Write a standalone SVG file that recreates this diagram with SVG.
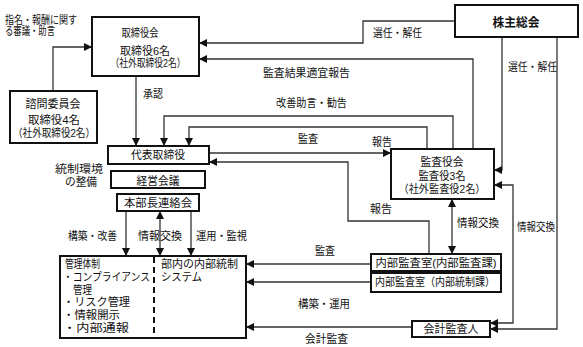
<svg xmlns="http://www.w3.org/2000/svg" width="583" height="347" viewBox="0 0 583 347">
<style>
text{font-family:"Liberation Sans","Noto Sans CJK JP",sans-serif;font-size:11px;fill:#111}
.b{font-weight:bold;font-size:12.5px}
.box{fill:#fff;stroke:#111;stroke-width:2}
.c{fill:none;stroke:#333;stroke-width:1.3}
.m{text-anchor:middle}
</style>
<defs>
<marker id="a" markerUnits="userSpaceOnUse" markerWidth="8" markerHeight="8" refX="7" refY="3.5" orient="auto-start-reverse" viewBox="0 0 7 7">
<path d="M0,0 L7,3.5 L0,7 z" fill="#111"/>
</marker>
</defs>
<rect width="583" height="347" fill="#fff"/>

<g id="connectors">
<path class="c" d="M455,21 H363 V43 H199" marker-end="url(#a)"/>
<path class="c" d="M473,149 V59 H199" marker-end="url(#a)"/>
<path class="c" d="M453,149 V116 H164 V146" marker-end="url(#a)"/>
<path class="c" d="M427,149 V127 H189 V146" marker-end="url(#a)"/>
<path class="c" d="M136,76 V146" marker-end="url(#a)"/>
<path class="c" d="M53,91 V47 H92" marker-end="url(#a)"/>
<path class="c" d="M209,153 H391" marker-end="url(#a)"/>
<path class="c" d="M429,254 V221 H348 V162 H209" marker-end="url(#a)"/>
<path class="c" d="M452,199 V254" marker-start="url(#a)" marker-end="url(#a)"/>
<path class="c" d="M502,37 V170 H494" marker-end="url(#a)"/>
<path class="c" d="M490,323 H513 V185 H494" marker-start="url(#a)" marker-end="url(#a)"/>
<path class="c" d="M557,37 V329 H490" marker-end="url(#a)"/>
<path class="c" d="M126,211 V256" marker-end="url(#a)"/>
<path class="c" d="M160,211 V256" marker-start="url(#a)" marker-end="url(#a)"/>
<path class="c" d="M191,211 V256" marker-end="url(#a)"/>
<path class="c" d="M371,264 H246" marker-end="url(#a)"/>
<path class="c" d="M371,282 H246" marker-end="url(#a)"/>
<path class="c" d="M412,327 H246" marker-end="url(#a)"/>
<text x="5" y="24" textLength="72" lengthAdjust="spacingAndGlyphs">指名・報酬に関す</text>
<text x="5" y="35" textLength="50" lengthAdjust="spacingAndGlyphs">る審議・助言</text>
<text x="143" y="98" textLength="20" lengthAdjust="spacingAndGlyphs">承認</text>
<text x="373" y="37" textLength="49" lengthAdjust="spacingAndGlyphs">選任・解任</text>
<text x="263" y="77" textLength="87" lengthAdjust="spacingAndGlyphs">監査結果適宜報告</text>
<text x="276" y="107" textLength="71" lengthAdjust="spacingAndGlyphs">改善助言・勧告</text>
<text x="298" y="143" textLength="20" lengthAdjust="spacingAndGlyphs">監査</text>
<text x="372" y="146" textLength="20" lengthAdjust="spacingAndGlyphs">報告</text>
<text x="508" y="71" textLength="49" lengthAdjust="spacingAndGlyphs">選任・解任</text>
<text x="79" y="173" class="m" textLength="48" lengthAdjust="spacingAndGlyphs">統制環境</text>
<text x="81" y="186" class="m" textLength="32" lengthAdjust="spacingAndGlyphs">の整備</text>
<text x="68" y="240" textLength="49" lengthAdjust="spacingAndGlyphs">構築・改善</text>
<text x="138" y="240" textLength="44" lengthAdjust="spacingAndGlyphs">情報交換</text>
<text x="196" y="240" textLength="51" lengthAdjust="spacingAndGlyphs">運用・監視</text>
<text x="370" y="213" textLength="22" lengthAdjust="spacingAndGlyphs">報告</text>
<text x="457" y="227" textLength="42" lengthAdjust="spacingAndGlyphs">情報交換</text>
<text x="517" y="231" textLength="38" lengthAdjust="spacingAndGlyphs">情報交換</text>
<text x="315" y="255" textLength="20" lengthAdjust="spacingAndGlyphs">監査</text>
<text x="298" y="308" textLength="52" lengthAdjust="spacingAndGlyphs">構築・運用</text>
<text x="305" y="343" textLength="43" lengthAdjust="spacingAndGlyphs">会計監査</text>
</g>

<g id="shareholders">
<rect class="box" x="455" y="5" width="123" height="32"/>
<text class="b m" x="516" y="27" textLength="47" lengthAdjust="spacingAndGlyphs">株主総会</text>
</g>
<g id="board">
<rect class="box" x="92" y="17" width="107" height="59"/>
<text x="140" y="37" class="m" textLength="37" lengthAdjust="spacingAndGlyphs">取締役会</text>
<text x="145" y="55" class="m" textLength="50" lengthAdjust="spacingAndGlyphs">取締役6名</text>
<text x="148" y="67" class="m" textLength="75" lengthAdjust="spacingAndGlyphs">（社外取締役2名）</text>
</g>
<g id="advisory">
<rect class="box" x="10" y="91" width="87" height="52"/>
<text x="53" y="108" class="m" textLength="55" lengthAdjust="spacingAndGlyphs">諮問委員会</text>
<text x="54" y="124" class="m" textLength="52" lengthAdjust="spacingAndGlyphs">取締役4名</text>
<text x="54" y="137" class="m" textLength="82" lengthAdjust="spacingAndGlyphs">（社外取締役2名）</text>
</g>
<g id="ceo">
<rect class="box" x="108" y="146" width="101" height="18"/>
<text x="158" y="159" class="m" textLength="54" lengthAdjust="spacingAndGlyphs">代表取締役</text>
</g>
<g id="mgmt">
<rect class="box" x="111" y="171" width="94" height="17"/>
<text x="158" y="185" class="m" textLength="43" lengthAdjust="spacingAndGlyphs">経営会議</text>
</g>
<g id="divisions">
<rect class="box" x="117" y="194" width="82" height="17"/>
<text x="158" y="207" class="m" textLength="68" lengthAdjust="spacingAndGlyphs">本部長連絡会</text>
</g>
<g id="auditors">
<rect class="box" x="391" y="149" width="103" height="50"/>
<text x="442" y="166" class="m" textLength="43" lengthAdjust="spacingAndGlyphs">監査役会</text>
<text x="442" y="180" class="m" textLength="47" lengthAdjust="spacingAndGlyphs">監査役3名</text>
<text x="442" y="193" class="m" textLength="87" lengthAdjust="spacingAndGlyphs">（社外監査役2名）</text>
</g>
<g id="internal-audit">
<rect class="box" x="371" y="254" width="130" height="17"/>
<text x="436" y="267" class="m" textLength="121" lengthAdjust="spacingAndGlyphs">内部監査室(内部監査課)</text>
</g>
<g id="internal-control">
<rect class="box" x="371" y="273" width="130" height="19"/>
<text x="435" y="286" class="m" textLength="120" lengthAdjust="spacingAndGlyphs">内部監査室（内部統制課）</text>
</g>
<g id="accounting-auditor">
<rect class="box" x="412" y="321" width="78" height="16"/>
<text x="451" y="333" class="m" textLength="55" lengthAdjust="spacingAndGlyphs">会計監査人</text>
</g>
<g id="system">
<rect class="box" x="60" y="256" width="186" height="82"/>
<line x1="154" y1="257" x2="154" y2="337" stroke="#111" stroke-width="2" stroke-dasharray="6,4"/>
<text x="65" y="268" textLength="35" lengthAdjust="spacingAndGlyphs">管理体制</text>
<text x="63" y="281" textLength="87" lengthAdjust="spacingAndGlyphs">・コンプライアンス</text>
<text x="73" y="294" textLength="19" lengthAdjust="spacingAndGlyphs">管理</text>
<text x="63" y="306" textLength="67" lengthAdjust="spacingAndGlyphs">・リスク管理</text>
<text x="63" y="319" textLength="57" lengthAdjust="spacingAndGlyphs">・情報開示</text>
<text x="63" y="332" textLength="66" lengthAdjust="spacingAndGlyphs">・内部通報</text>
<text x="161" y="268" textLength="77" lengthAdjust="spacingAndGlyphs">部内の内部統制</text>
<text x="161" y="281" textLength="41" lengthAdjust="spacingAndGlyphs">システム</text>
</g>
</svg>
